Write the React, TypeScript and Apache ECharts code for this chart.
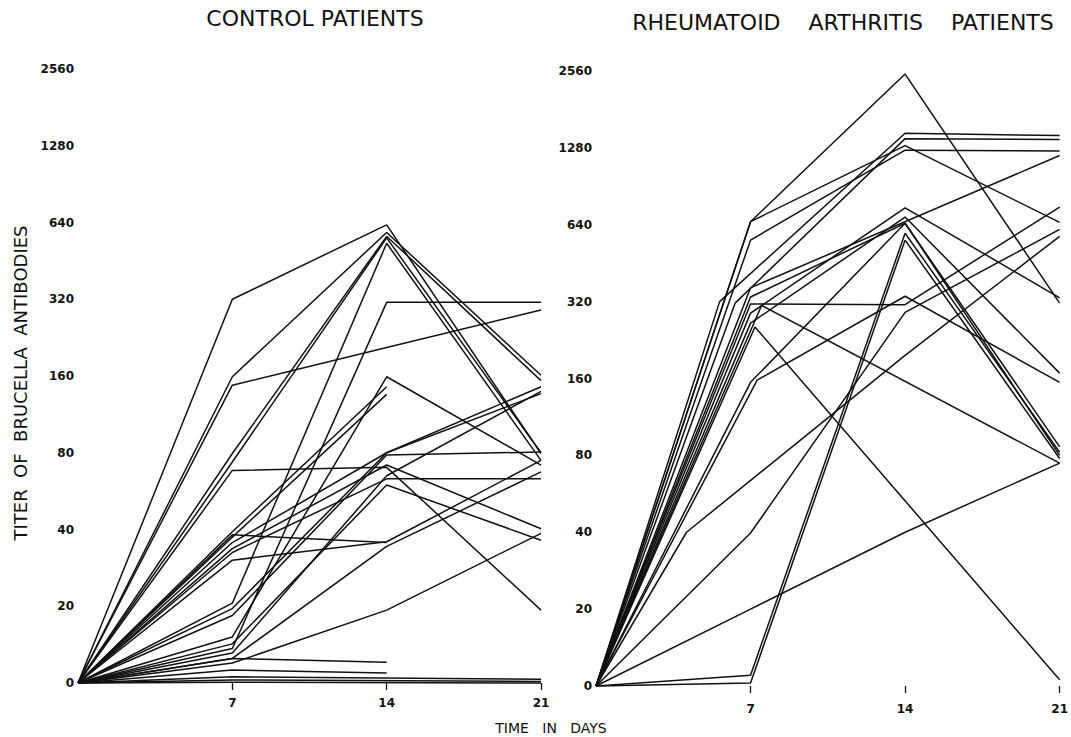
import React, { useEffect, useRef } from "react";
import * as echarts from "echarts";

// Titer levels: equally spaced doubling steps, index 0..8
const TITER_LABELS = ["0", "20", "40", "80", "160", "320", "640", "1280", "2560"];
const DAY_TICKS = [7, 14, 21];

// Each patient: [day, titer step] (step 1 = 20, 2 = 40, ... 8 = 2560)
const controlPatients: number[][][] = [
  [[0, 0], [7, 5.0], [14, 5.97], [21, 2.99]],
  [[0, 0], [7, 3.99], [14, 5.87], [21, 4.01]],
  [[0, 0], [7, 2.99], [14, 5.82], [21, 3.94]],
  [[0, 0], [7, 1.04], [14, 5.73], [21, 2.9]],
  [[0, 0], [7, 3.88], [14, 4.37], [21, 4.86]],
  [[0, 0], [7, 0.45], [14, 4.96], [21, 4.96]],
  [[0, 0], [7, 0.6], [14, 3.99], [21, 2.84]],
  [[0, 0], [7, 1.97], [14, 3.86]],
  [[0, 0], [7, 1.9], [14, 3.76]],
  [[0, 0], [7, 2.77], [14, 2.81], [21, 0.95]],
  [[0, 0], [7, 1.93], [14, 1.83]],
  [[0, 0], [7, 1.6], [14, 1.84], [21, 2.9]],
  [[0, 0], [7, 0.88], [14, 2.97], [21, 3.01]],
  [[0, 0], [7, 0.97], [14, 3.0], [21, 3.86]],
  [[0, 0], [7, 1.7], [14, 2.66], [21, 2.66]],
  [[0, 0], [7, 0.51], [14, 2.58], [21, 1.86]],
  [[0, 0], [7, 0.32], [14, 1.78], [21, 2.75]],
  [[0, 0], [7, 0.26], [14, 0.95], [21, 1.95]],
  [[0, 0], [7, 0.32], [14, 0.27]],
  [[0, 0], [7, 0.17], [14, 0.13]],
  [[0, 0], [7, 0.08], [21, 0.05]],
  [[0, 0], [7, 0.04], [21, 0.02]],
  [[0, 0], [7, 0.01], [21, 0.0]],
  [[0, 0], [7, 1.75], [14, 2.84], [21, 2.01]],
  [[0, 0], [7, 1.83], [14, 3.0], [21, 3.77]],
  [[0, 0], [7, 2.88], [14, 5.8], [21, 3.0]],
  [[0, 0], [7, 0.39], [14, 2.7], [21, 3.8]],
];

const raPatients: number[][][] = [
  [[0, 0], [7, 6.04], [14, 7.96], [21, 4.98]],
  [[0, 0], [7, 6.04], [14, 7.03], [21, 6.03]],
  [[0, 0], [7, 5.8], [14, 6.97], [21, 6.96]],
  [[0, 0], [5.6, 5.0], [14, 7.19], [21, 7.16]],
  [[0, 0], [6.3, 4.98], [14, 7.12], [21, 7.11]],
  [[0, 0], [7, 5.18], [21, 6.9]],
  [[0, 0], [7, 4.97], [14, 4.96], [21, 6.23]],
  [[0, 0], [7.5, 4.95], [21, 2.9]],
  [[0, 0], [7.2, 4.67], [21, 0.08]],
  [[0, 0], [7, 4.85], [14, 6.22], [21, 5.05]],
  [[0, 0], [7, 4.72], [14, 6.1], [21, 4.07]],
  [[0, 0], [7, 3.95], [14, 6.02], [21, 3.11]],
  [[0, 0], [7, 0.14], [14, 5.89], [21, 3.04]],
  [[0, 0], [7, 0.04], [14, 5.8], [21, 2.96]],
  [[0, 0], [7.3, 3.98], [14, 5.07], [21, 3.95]],
  [[0, 0], [7, 1.99], [14, 4.86], [21, 5.94]],
  [[0, 0], [4.1, 2.0], [14, 4.3], [21, 5.85]],
  [[0, 0], [7, 1.0], [14, 2.0], [21, 2.9]],
  [[0, 0], [7, 5.06], [14, 6.02], [21, 3.0]],
];

const INK = "#111";
const FONT = "DejaVu Sans";

function makeXAxis(gridIndex: number, margin: number) {
  return {
    type: "value",
    gridIndex,
    min: 0,
    max: 21,
    interval: 7,
    axisLine: { show: false },
    splitLine: { show: false },
    axisTick: {
      show: true,
      customValues: DAY_TICKS,
      length: 7,
      lineStyle: { color: INK, width: 1.3 },
    },
    axisLabel: {
      customValues: DAY_TICKS,
      margin,
      color: INK,
      fontFamily: FONT,
      fontWeight: "bold",
      fontSize: 12,
      formatter: (v: number) => (v === 0 ? "" : String(v)),
    },
  };
}

function makeYAxis(gridIndex: number) {
  return {
    type: "value",
    gridIndex,
    min: 0,
    max: 8,
    interval: 1,
    axisLine: { show: false },
    axisTick: { show: false },
    splitLine: { show: false },
    axisLabel: {
      margin: 4,
      color: INK,
      fontFamily: FONT,
      fontWeight: "bold",
      fontSize: 12,
      formatter: (v: number) => TITER_LABELS[v] ?? "",
    },
  };
}

function makeSeries(lines: number[][][], idx: number) {
  return lines.map((pts) => ({
    type: "line",
    xAxisIndex: idx,
    yAxisIndex: idx,
    data: pts,
    showSymbol: false,
    symbol: "none",
    clip: false,
    silent: true,
    lineStyle: { color: INK, width: 1.5 },
    emphasis: { disabled: true },
  }));
}

export default function App() {
  const ref = useRef<HTMLDivElement>(null);
  useEffect(() => {
    if (!ref.current) return;
    const chart = echarts.init(ref.current, undefined, { renderer: "svg" });
    chart.setOption({
      animation: false,
      backgroundColor: "#fff",
      grid: [
        { left: 78, top: 69, width: 463, height: 614 },
        { left: 596, top: 71, width: 466, height: 615 },
      ],
      xAxis: [makeXAxis(0, 14), makeXAxis(1, 17)],
      yAxis: [makeYAxis(0), makeYAxis(1)],
      series: [...makeSeries(controlPatients, 0), ...makeSeries(raPatients, 1)],
      graphic: [
        {
          type: "text",
          x: 315,
          y: 18,
          style: {
            text: "CONTROL PATIENTS",
            fill: INK,
            font: `normal 22px '${FONT}'`,
            align: "center",
            verticalAlign: "middle",
          },
        },
        {
          type: "text",
          x: 843,
          y: 22,
          style: {
            text: "RHEUMATOID    ARTHRITIS    PATIENTS",
            fill: INK,
            font: `normal 22px '${FONT}'`,
            align: "center",
            verticalAlign: "middle",
          },
        },
        {
          type: "text",
          x: 20,
          y: 383,
          rotation: Math.PI / 2,
          style: {
            text: "TITER  OF  BRUCELLA  ANTIBODIES",
            fill: INK,
            font: `normal 18px '${FONT}'`,
            align: "center",
            verticalAlign: "middle",
          },
        },
        {
          type: "text",
          x: 551,
          y: 728,
          style: {
            text: "TIME   IN   DAYS",
            fill: INK,
            font: `normal 14px '${FONT}'`,
            align: "center",
            verticalAlign: "middle",
          },
        },
      ],
    });
    return () => chart.dispose();
  }, []);
  return (
    <div
      ref={ref}
      style={{ position: "fixed", left: 0, top: 0, width: 1071, height: 737, background: "#fff" }}
    />
  );
}
